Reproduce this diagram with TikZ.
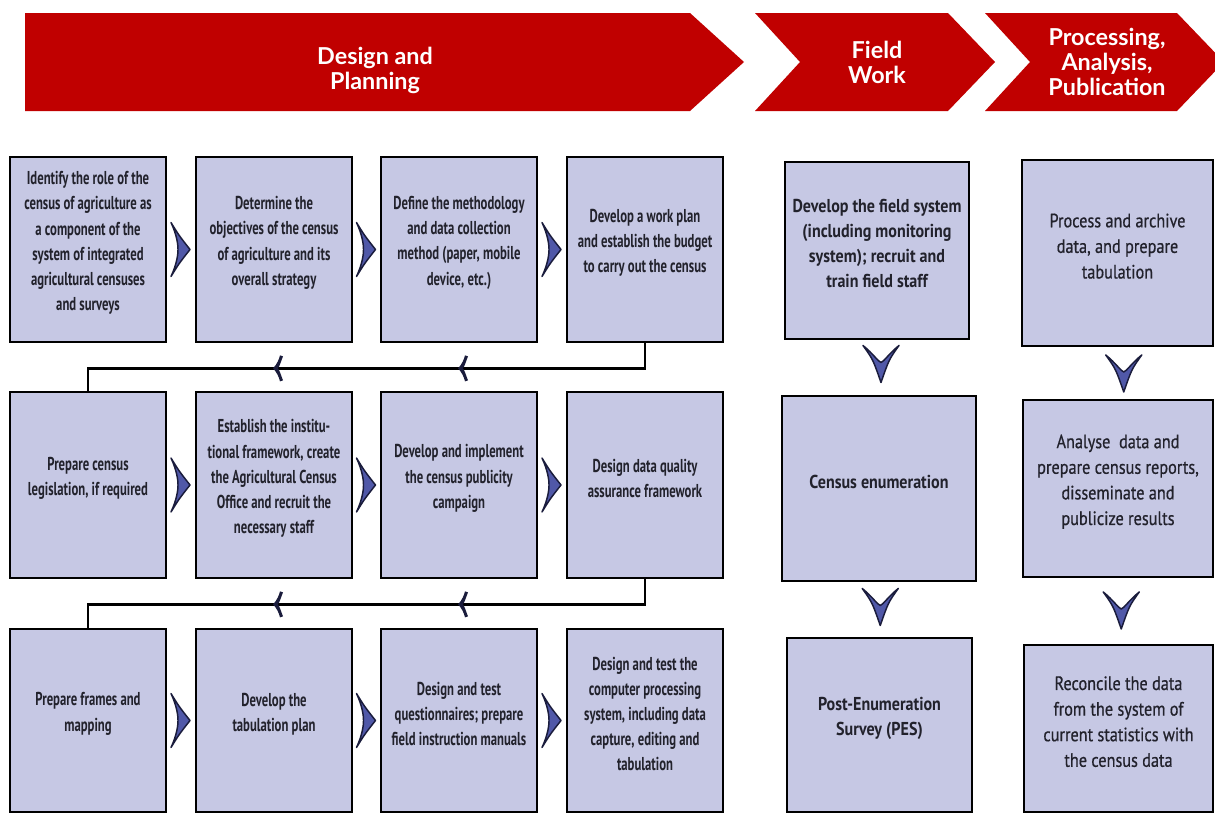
\documentclass[tikz,border=0pt]{standalone}
\usepackage{fontspec}
\setmainfont{Liberation Sans}
\newfontfamily\lboxfamily{PT Sans}[FakeStretch=0.68]
\newfontfamily\fboxfamily{PT Sans}[FakeStretch=0.86]
\newfontfamily\pboxfamily{PT Sans}[FakeStretch=0.84,FakeBold=0.6]
\newfontfamily\headfamily{Lato}
\usetikzlibrary{fit,calc}
\definecolor{hdr}{RGB}{192,0,0}
\definecolor{boxfill}{RGB}{198,200,228}
\definecolor{chev}{RGB}{80,88,168}
\definecolor{chevdark}{RGB}{26,28,60}
\definecolor{txt}{RGB}{34,34,44}
\tikzset{
  box/.style={draw=black, line width=2pt, fill=boxfill, inner sep=0pt, align=center, text=txt},
  lbox/.style={box, font=\lboxfamily\bfseries\fontsize{14}{18.8}\selectfont},
  fbox/.style={box, font=\fboxfamily\bfseries\fontsize{14}{18.8}\selectfont},
  pbox/.style={box, font=\pboxfamily\fontsize{14.5}{19.2}\selectfont},
  banner/.style={fill=hdr},
  hdrtext/.style={text=white, align=center, font=\headfamily\bfseries\fontsize{17.5}{18.8}\selectfont},
  conn/.style={draw=black, line width=2.1pt},
  chevpath/.style={fill=chev, draw=chevdark, line width=1.1pt, line join=round},
  rchev/.pic={\path[chevpath] (-10,-27) .. controls (-2,-14) .. (9,0) .. controls (-2,14) .. (-10,27) .. controls (-4,14) and (-3,5) .. (-3,0) .. controls (-3,-5) and (-4,-14) .. (-10,-27) -- cycle;},
  dchev/.pic={\path[chevpath] (-18,-18) .. controls (-8,-4) .. (0,19) .. controls (8,-4) .. (18,-18) .. controls (8,-10) and (3,-2) .. (0,-1) .. controls (-3,-2) and (-8,-10) .. (-18,-18) -- cycle;},
  larr/.pic={\fill[chevdark] (-1,0) .. controls (3,-4) and (5,-9) .. (6,-13) -- (9,-12) .. controls (7,-7) and (6,-3) .. (4,0) .. controls (6,3) and (7,7) .. (9,12) -- (6,13) .. controls (5,9) and (3,4) .. (-1,0) -- cycle;}
}
\begin{document}
\begin{tikzpicture}[x=0.75pt,y=-0.75pt]
\useasboundingbox (0,0) rectangle (1215,814);
\clip (0,0) rectangle (1215,814);
\fill[white] (0,0) rectangle (1215,814);

% header banners
\fill[banner] (25,13) -- (690,13) -- (744,62) -- (690,111) -- (25,111) -- cycle;
\fill[banner] (755,13) -- (948,13) -- (995,62) -- (948,111) -- (755,111) -- (800,62) -- cycle;
\fill[banner] (985,13) -- (1177,13) -- (1224,62) -- (1177,111) -- (985,111) -- (1030,62) -- cycle;
\node[hdrtext] (h1) at (375,70) {Design and\\Planning};
\node[hdrtext] (h2) at (877,62) {Field\\Work};
\node[hdrtext] (h3) at (1107,62) {Processing,\\Analysis,\\Publication};

% row 1
\node[lbox, fit={(10,157)(166,342)}] (b11) {Identify the role of the\\census of agriculture as\\a component of the\\system of integrated\\agricultural censuses\\and surveys};
\node[lbox, fit={(196,157)(352,342)}] (b12) {Determine the\\objectives of the census\\of agriculture and its\\overall strategy};
\node[lbox, fit={(381,157)(537,342)}] (b13) {Define the methodology\\and data collection\\method (paper, mobile\\device, etc.)};
\node[lbox, fit={(567,157)(723,342)}] (b14) {Develop a work plan\\and establish the budget\\to carry out the census};
% row 2
\node[lbox, fit={(10,392)(166,578)}] (b21) {Prepare census\\legislation, if required};
\node[lbox, fit={(196,392)(352,578)}] (b22) {Establish the institu-\\tional framework, create\\the Agricultural Census\\Office and recruit the\\necessary staff};
\node[lbox, fit={(381,392)(537,578)}] (b23) {Develop and implement\\the census publicity\\campaign};
\node[lbox, fit={(567,392)(723,578)}] (b24) {Design data quality\\assurance framework};
% row 3
\node[lbox, fit={(10,629)(166,812)}] (b31) {Prepare frames and\\mapping};
\node[lbox, fit={(196,629)(352,812)}] (b32) {Develop the\\tabulation plan};
\node[lbox, fit={(381,629)(537,812)}] (b33) {Design and test\\questionnaires; prepare\\field instruction manuals};
\node[lbox, fit={(567,629)(723,812)}] (b34) {Design and test the\\computer processing\\system, including data\\capture, editing and\\tabulation};

% field work column
\node[fbox, fit={(785,162)(969,339)}] (fA) {Develop the field system\\(including monitoring\\system); recruit and\\train field staff};
\node[fbox, fit={(782,396)(976,581)}] (fB) {Census enumeration};
\node[fbox, fit={(787,638)(972,812)}] (fC) {Post-Enumeration\\Survey (PES)};

% processing column
\node[pbox, fit={(1022,160)(1213,346)}] (pA) {Process and archive\\data, and prepare\\tabulation};
\node[pbox, fit={(1023,400)(1213,577)}] (pB) {Analyse\ \ data and\\prepare census reports,\\disseminate and\\publicize results};
\node[pbox, fit={(1024,645)(1213,812)}] (pC) {Reconcile the data\\from the system of\\current statistics with\\the census data};

% right-pointing chevrons
\foreach \r in {1,2,3}{
  \pic at ($(b\r1.east)!0.5!(b\r2.west)$) {rchev};
  \pic at ($(b\r2.east)!0.5!(b\r3.west)$) {rchev};
  \pic at ($(b\r3.east)!0.5!(b\r4.west)$) {rchev};
}
% down chevrons
\pic at ($(fA.south)!0.5!(fB.north)+(3,-4)$) {dchev};
\pic at ($(fB.south)!0.5!(fC.north)+(1,-3)$) {dchev};
\pic at ($(pA.south)!0.5!(pB.north)+(6,0)$) {dchev};
\pic at ($(pB.south)!0.5!(pC.north)+(3,-1)$) {dchev};

% return connectors
\draw[conn] (b14.south) -- ++(0,25) coordinate (k1) -| (b21.north);
\draw[conn] (b24.south) -- ++(0,25) coordinate (k2) -| (b31.north);
\pic at (b13.center |- k1) {larr};
\pic at (b12.center |- k1) {larr};
\pic at (b13.center |- k2) {larr};
\pic at (b12.center |- k2) {larr};
\end{tikzpicture}
\end{document}
